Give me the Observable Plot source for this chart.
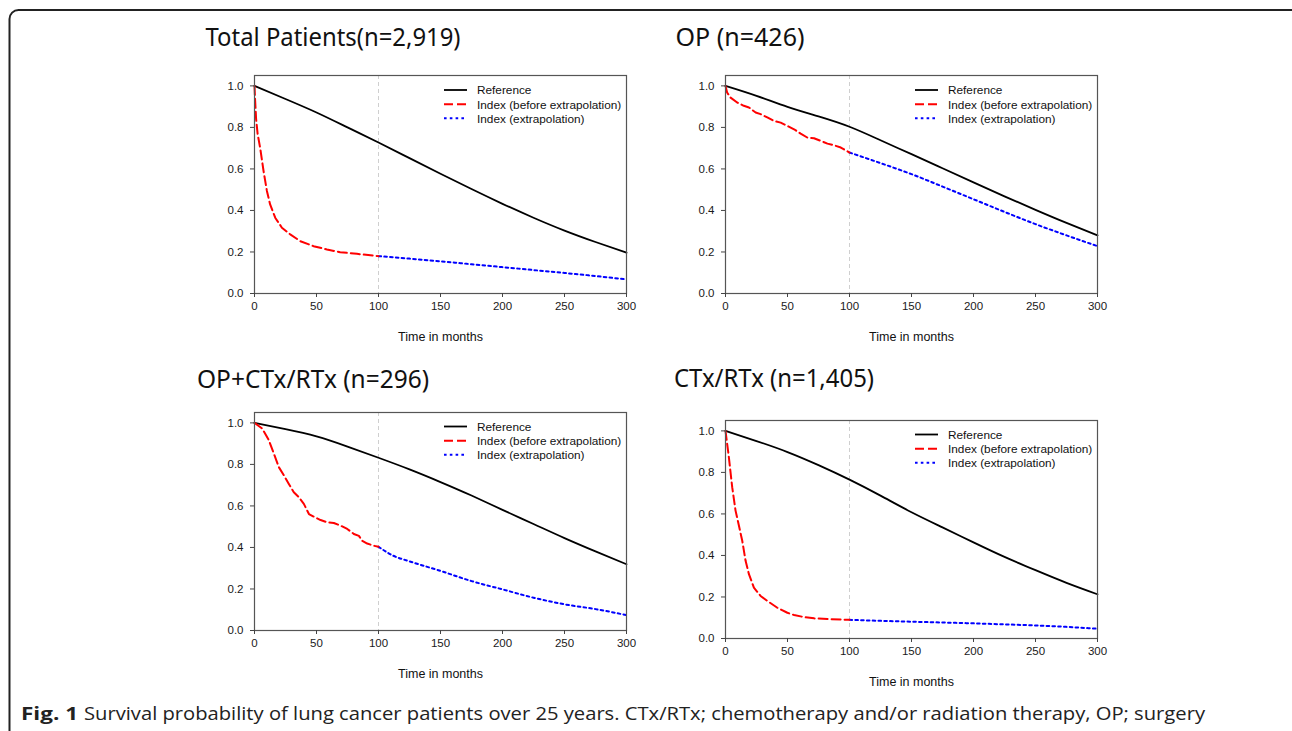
<!DOCTYPE html>
<html>
<head>
<meta charset="utf-8">
<script src="https://cdn.jsdelivr.net/npm/d3@7"></script>
<script src="https://cdn.jsdelivr.net/npm/@observablehq/plot@0.6"></script>
<style>
  html, body { margin: 0; padding: 0; background: #fff; }
  #page { position: relative; width: 1292px; height: 731px; overflow: hidden; background: #fff; }
  .panel { position: absolute; }
  #overlay { position: absolute; left: 0; top: 0; pointer-events: none; }
</style>
</head>
<body>
<div id="page"></div>
<script>
// ---------- data ----------
const panelTitles = ["Total Patients(n=2,919)", "OP (n=426)", "OP+CTx/RTx (n=296)", "CTx/RTx (n=1,405)"];
const seriesNames = ["Reference", "Index (before extrapolation)", "Index (extrapolation)"];
const xTicks = [0, 50, 100, 150, 200, 250, 300];
const yTicks = [0, 0.2, 0.4, 0.6, 0.8, 1.0];
const xLabel = "Time in months";
const extrapolationStart = [100];
const captionBold = "Fig. 1";
const captionText = "Survival probability of lung cancer patients over 25 years. CTx/RTx; chemotherapy and/or radiation therapy, OP; surgery";

const refMonths = [0, 25, 50, 75, 100, 125, 150, 175, 200, 225, 250, 275, 300];

// Total patients
const totalRef = [1.0, 0.937, 0.872, 0.800, 0.727, 0.652, 0.577, 0.503, 0.432, 0.365, 0.303, 0.248, 0.197];
const totalBeforeT = [0, 0.5, 1.3, 2.5, 4.6, 7.3, 10, 12.6, 16.7, 22.1, 28.8, 36.9, 47.6, 58.4, 69.1, 82.6, 100];
const totalBeforeS = [1.0, 0.93, 0.84, 0.77, 0.70, 0.59, 0.494, 0.429, 0.365, 0.317, 0.285, 0.252, 0.228, 0.212, 0.199, 0.191, 0.180];
const totalExtrapT = [100, 125, 150, 175, 200, 225, 250, 275, 300];
const totalExtrapS = [0.180, 0.168, 0.155, 0.141, 0.127, 0.113, 0.099, 0.084, 0.068];

// OP
const opRef = [1.0, 0.952, 0.899, 0.853, 0.803, 0.738, 0.671, 0.603, 0.535, 0.468, 0.403, 0.340, 0.280];
const opBeforeT = [0, 1.3, 4, 9.4, 14.8, 18.9, 24.3, 28.3, 33.7, 39.1, 44.5, 49.9, 55.3, 60.6, 66, 71.4, 76.8, 82.2, 87.6, 93, 100];
const opBeforeS = [1.0, 0.968, 0.944, 0.92, 0.904, 0.896, 0.872, 0.864, 0.848, 0.831, 0.823, 0.807, 0.791, 0.770, 0.751, 0.748, 0.735, 0.722, 0.714, 0.703, 0.679];
const opExtrapT = [100, 125, 150, 175, 200, 225, 250, 275, 300];
const opExtrapS = [0.679, 0.628, 0.575, 0.515, 0.454, 0.393, 0.334, 0.280, 0.228];

// OP + CTx/RTx
const opcRef = [1.0, 0.970, 0.935, 0.886, 0.832, 0.776, 0.715, 0.650, 0.581, 0.513, 0.445, 0.381, 0.319];
const opcBeforeT = [0, 6.2, 11.6, 15.6, 19.6, 23.7, 27.7, 31.7, 35.8, 39.8, 43.9, 47.9, 53.3, 58.6, 64, 69.4, 74.8, 80.1, 84.2, 86.9, 90.9, 96.3, 100];
const opcBeforeS = [1.0, 0.973, 0.916, 0.852, 0.787, 0.747, 0.706, 0.666, 0.642, 0.610, 0.561, 0.548, 0.532, 0.521, 0.518, 0.505, 0.489, 0.465, 0.456, 0.432, 0.419, 0.408, 0.403];
const opcExtrapT = [100, 112, 125, 150, 175, 200, 225, 250, 275, 300];
const opcExtrapS = [0.403, 0.360, 0.333, 0.287, 0.238, 0.198, 0.158, 0.126, 0.103, 0.074];

// CTx/RTx
const crRef = [1.0, 0.951, 0.898, 0.835, 0.765, 0.688, 0.608, 0.535, 0.463, 0.393, 0.329, 0.268, 0.213];
const crBeforeT = [0, 2.7, 5.4, 8.1, 10.8, 13.5, 16.2, 18.9, 22.9, 28.3, 33.7, 41.8, 49.9, 55.3, 63.3, 71.4, 82.2, 100];
const crBeforeS = [1.0, 0.874, 0.729, 0.616, 0.544, 0.471, 0.374, 0.310, 0.245, 0.205, 0.181, 0.148, 0.124, 0.113, 0.103, 0.097, 0.094, 0.090];
const crExtrapT = [100, 125, 150, 175, 200, 225, 250, 275, 300];
const crExtrapS = [0.090, 0.085, 0.081, 0.077, 0.073, 0.068, 0.063, 0.056, 0.047];

// ---------- layout ----------
const FW = 372, FH = 218;            // plot frame size
const ML = 60, MR = 20, MT = 15, MB = 60;
const frames = [ {x: 254, y: 75}, {x: 725, y: 75}, {x: 254, y: 411.5}, {x: 725, y: 419.5} ];
const titlePos = [
  {x: 205.5, y: 46, w: 255},
  {x: 675.5, y: 46, w: 129},
  {x: 197, y: 388, w: 232},
  {x: 674, y: 387, w: 200}
];
const colors = ["#000000", "#ff0000", "#0000ff"];
const dashes = [null, "9,4", "2.6,3.2"];
const widths = [1.8, 2, 2];
const FONT = "'Liberation Sans', Arial, sans-serif";

const zip = (t, s) => t.map((d, i) => ({t: d, s: s[i]}));
const panels = [
  {ref: zip(refMonths, totalRef), before: zip(totalBeforeT, totalBeforeS), extrap: zip(totalExtrapT, totalExtrapS)},
  {ref: zip(refMonths, opRef), before: zip(opBeforeT, opBeforeS), extrap: zip(opExtrapT, opExtrapS)},
  {ref: zip(refMonths, opcRef), before: zip(opcBeforeT, opcBeforeS), extrap: zip(opcExtrapT, opcExtrapS)},
  {ref: zip(refMonths, crRef), before: zip(crBeforeT, crBeforeS), extrap: zip(crExtrapT, crExtrapS)}
];

const page = document.getElementById("page");

panels.forEach((p, i) => {
  const chart = Plot.plot({
    width: ML + FW + MR,
    height: MT + FH + MB,
    marginLeft: ML, marginRight: MR, marginTop: MT, marginBottom: MB,
    style: {fontFamily: FONT, fontSize: "11.5px", color: "#1a1a1a", background: "transparent", overflow: "visible"},
    x: {domain: [0, 300]},
    y: {domain: [0, 1.05]},
    marks: [
      Plot.ruleX(extrapolationStart, {stroke: "#cfcfcf", strokeWidth: 1, strokeDasharray: "4,3"}),
      Plot.line(p.ref, {x: "t", y: "s", stroke: colors[0], strokeWidth: widths[0], curve: "natural"}),
      Plot.line(p.extrap, {x: "t", y: "s", stroke: colors[2], strokeWidth: widths[2], strokeDasharray: dashes[2], curve: "monotone-x"}),
      Plot.line(p.before, {x: "t", y: "s", stroke: colors[1], strokeWidth: widths[1], strokeDasharray: dashes[1]}),
      Plot.frame({stroke: "#555", strokeWidth: 1.2}),
      Plot.axisX({ticks: xTicks, tickSize: 4, tickPadding: 4, label: null, stroke: "#444", fontSize: 11.5, tickFormat: d => String(d)}),
      Plot.axisY({ticks: yTicks, tickSize: 4, tickPadding: 7, label: null, stroke: "#444", fontSize: 11.5, tickFormat: d => d.toFixed(1)}),
      Plot.text([xLabel], {text: d => d, frameAnchor: "bottom", dy: 47, fontSize: 12.5, fill: "#111"})
    ]
  });
  const div = document.createElement("div");
  div.className = "panel";
  div.style.left = (frames[i].x - ML) + "px";
  div.style.top = (frames[i].y - MT) + "px";
  div.appendChild(chart);
  page.appendChild(div);
});

// ---------- overlay: border, titles, legends, caption ----------
const NS = "http://www.w3.org/2000/svg";
const svg = document.createElementNS(NS, "svg");
svg.setAttribute("id", "overlay");
svg.setAttribute("width", 1292);
svg.setAttribute("height", 731);
page.appendChild(svg);
function el(tag, attrs, text) {
  const e = document.createElementNS(NS, tag);
  for (const k in attrs) e.setAttribute(k, attrs[k]);
  if (text != null) e.textContent = text;
  svg.appendChild(e);
  return e;
}
// rounded border
el("rect", {x: 9.5, y: 10, width: 1292, height: 800, rx: 9, ry: 9, fill: "none", stroke: "#222", "stroke-width": 2});

// titles
panelTitles.forEach((t, i) => {
  el("text", {x: titlePos[i].x, y: titlePos[i].y, "font-family": "'Noto Sans', 'Open Sans', sans-serif", "font-size": 25,
    fill: "#111", textLength: titlePos[i].w, lengthAdjust: "spacingAndGlyphs"}, t);
});

// legends
frames.forEach(f => {
  const rows = [15, 29.3, 43.3];
  seriesNames.forEach((name, k) => {
    const a = {x1: f.x + 190, x2: f.x + 213, y1: f.y + rows[k], y2: f.y + rows[k], stroke: colors[k], "stroke-width": widths[k]};
    if (dashes[k]) a["stroke-dasharray"] = dashes[k];
    el("line", a);
    el("text", {x: f.x + 223, y: f.y + rows[k] + 4.2, "font-family": FONT, "font-size": 11.8, fill: "#111"}, name);
  });
});

// caption
el("text", {x: 21, y: 720, "font-family": "'Open Sans', 'Noto Sans', sans-serif", "font-size": 18, "font-weight": "bold", fill: "#222",
  textLength: 57, lengthAdjust: "spacingAndGlyphs"}, captionBold);
el("text", {x: 84, y: 720, "font-family": "'Open Sans', 'Noto Sans', sans-serif", "font-size": 18, fill: "#222",
  textLength: 1121, lengthAdjust: "spacingAndGlyphs"}, captionText);
</script>
</body>
</html>
